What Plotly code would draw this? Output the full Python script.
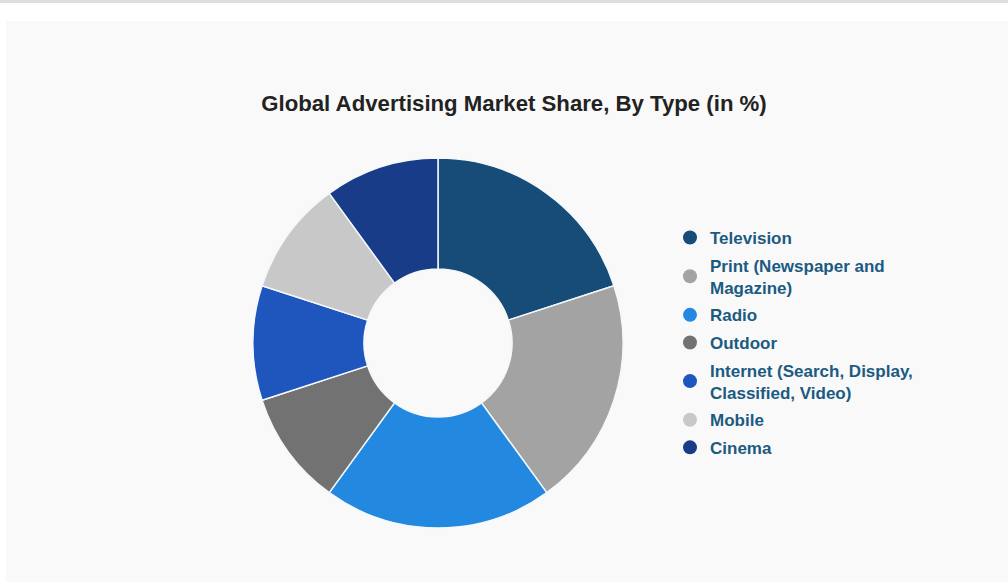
import plotly.graph_objects as go

categories = ["Television", "Print (Newspaper and<br>Magazine)", "Radio", "Outdoor",
              "Internet (Search, Display,<br>Classified, Video)", "Mobile", "Cinema"]
shares = [20, 20, 20, 10, 10, 10, 10]
colors = ["#174b78", "#a3a3a3", "#2389e0", "#727272", "#1f56be", "#c8c8c8", "#183c88"]
title_text = "Global Advertising Market Share, By Type (in %)"

W, H = 1008, 582
fig = go.Figure()

fig.add_trace(go.Pie(
    labels=categories, values=shares, sort=False, direction="clockwise", rotation=0,
    hole=0.4, marker=dict(colors=colors, line=dict(color="#f4f8fb", width=1.5)),
    textinfo="none", hoverinfo="label+percent", showlegend=False,
    domain=dict(x=[(438 - 185) / W, (438 + 185) / W],
                y=[(H - 343 - 185) / H, (H - 343 + 185) / H]),
))

for i, (name, col) in enumerate(zip(categories, colors)):
    fig.add_trace(go.Scatter(x=[None], y=[None], mode="markers", name=name,
                             legendgroup="g%d" % i,
                             marker=dict(symbol="circle", size=14, color=col)))

fig.update_layout(
    width=W, height=H,
    margin=dict(l=0, r=0, t=0, b=0),
    paper_bgcolor="#f9f9f9", plot_bgcolor="rgba(0,0,0,0)",
    xaxis=dict(visible=False), yaxis=dict(visible=False),
    title=dict(text="<b>" + title_text + "</b>", x=514 / W, xanchor="center",
               y=1 - 103 / H, yanchor="middle",
               font=dict(family="Liberation Sans, Arial, sans-serif", size=22.2, color="#222222")),
    legend=dict(x=670 / W, y=1 - 220 / H, xanchor="left", yanchor="top",
                bgcolor="rgba(0,0,0,0)", traceorder="grouped", tracegroupgap=2.5,
                font=dict(family="Liberation Sans, Arial, sans-serif", size=17,
                          color="#1b5b82", weight="bold"),
                itemclick=False),
    showlegend=True,
    shapes=[
        dict(type="rect", xref="paper", yref="paper", x0=0, x1=1, y0=1 - 21 / H, y1=1,
             fillcolor="#ffffff", line=dict(width=0), layer="below"),
        dict(type="rect", xref="paper", yref="paper", x0=0, x1=6 / W, y0=0, y1=1,
             fillcolor="#ffffff", line=dict(width=0), layer="below"),
        dict(type="rect", xref="paper", yref="paper", x0=0, x1=1, y0=1 - 3 / H, y1=1,
             fillcolor="#dedede", line=dict(width=0), layer="below"),
    ],
)

fig.write_html("out.html", config={"displayModeBar": False},
               post_script="document.body.style.margin='0';")
